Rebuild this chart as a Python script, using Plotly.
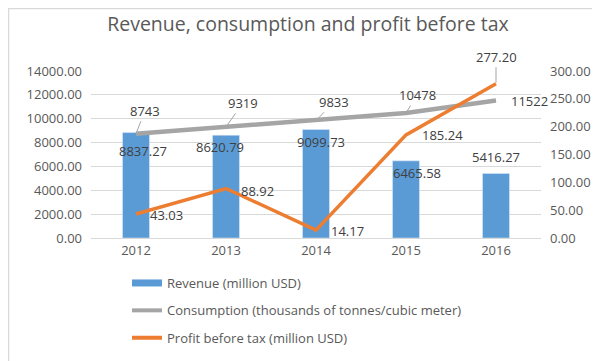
import plotly.graph_objects as go

years = ["2012", "2013", "2014", "2015", "2016"]
revenue = [8837.27, 8620.79, 9099.73, 6465.58, 5416.27]
consumption = [8743, 9319, 9833, 10478, 11522]
profit = [43.03, 88.92, 14.17, 185.24, 277.20]

names = ["Revenue (million USD)",
         "Consumption (thousands of tonnes/cubic meter)",
         "Profit before tax (million USD)"]

BLUE = "#5B9BD5"
GRAY = "#A5A5A5"
ORANGE = "#ED7D31"
TXT = "#404040"
AX = "#595959"
GRID = "#D9D9D9"
FONT = "Open Sans"

PW, PH = 450, 167  # plot area size in px

fig = go.Figure()
fig.add_trace(go.Bar(x=years, y=revenue, marker_color=BLUE, name=names[0],
                     showlegend=False, yaxis="y"))
fig.add_trace(go.Scatter(x=years, y=consumption, mode="lines", name=names[1],
                         line=dict(color=GRAY, width=4.5), yaxis="y", showlegend=False))
fig.add_trace(go.Scatter(x=years, y=profit, mode="lines", name=names[2],
                         line=dict(color=ORANGE, width=3.5), yaxis="y2",
                         showlegend=False))
# legend entries (no visible marks)
for nm, col, w, g in [(names[0], BLUE, 7, "a"), (names[1], GRAY, 4, "b"), (names[2], ORANGE, 4, "c")]:
    fig.add_trace(go.Scatter(x=years[:1], y=[None], mode="lines", name=nm,
                             line=dict(color=col, width=w), legendgroup=g, yaxis="y"))

ann = []
rev_shift = [(7, -18), (-6, -12), (5, -13), (11, -12), (0, 16)]
for i, (v, (dx, dy)) in enumerate(zip(revenue, rev_shift)):
    ann.append(dict(x=i, y=v, xref="x", yref="y", text=f"{v:.2f}", showarrow=False,
                    xshift=dx, yshift=dy, font=dict(size=13, color=TXT, family=FONT)))
cons_off = [(9, -23, True), (17, -24, True), (18, -19, True), (11, -18, True), (33, 0, False)]
for i, (v, (dx, dy, lead)) in enumerate(zip(consumption, cons_off)):
    if lead:
        ann.append(dict(x=i, y=v, xref="x", yref="y", text=f"{v}", showarrow=True,
                        arrowhead=0, arrowwidth=1, arrowcolor=GRAY, ax=dx, ay=dy,
                        standoff=1, font=dict(size=13, color=TXT, family=FONT)))
    else:
        ann.append(dict(x=i, y=v, xref="x", yref="y", text=f"{v}", showarrow=False,
                        xshift=dx, yshift=dy, font=dict(size=13, color=TXT, family=FONT)))
prof_off = [(30, -1, False), (31, -2, False), (31, -1, False), (36, 0, False), (0, -27, True)]
for i, (v, (dx, dy, lead)) in enumerate(zip(profit, prof_off)):
    if lead:
        ann.append(dict(x=i, y=v, xref="x", yref="y2", text=f"{v:.2f}", showarrow=True,
                        arrowhead=0, arrowwidth=1, arrowcolor=GRAY, ax=dx, ay=dy,
                        standoff=1, font=dict(size=13, color=TXT, family=FONT)))
    else:
        ann.append(dict(x=i, y=v, xref="x", yref="y2", text=f"{v:.2f}", showarrow=False,
                        xshift=dx, yshift=dy, font=dict(size=13, color=TXT, family=FONT)))

fig.update_layout(
    width=600, height=361,
    margin=dict(l=83, r=67, t=63, b=131, autoexpand=False),
    paper_bgcolor="white", plot_bgcolor="white",
    font=dict(family=FONT, size=13, color=AX),
    title=dict(text="Revenue, consumption and profit before tax", x=0.5, xanchor="center",
               y=1 - 16 / 361, yanchor="middle", yref="container",
               font=dict(size=19.5, color=AX, family=FONT)),
    bargap=0.7,
    xaxis=dict(type="category", categoryarray=years, categoryorder="array",
               range=[-0.5, len(years) - 0.5], showgrid=False, showline=True,
               linecolor=GRID, ticks="", tickfont=dict(size=13, color=AX)),
    yaxis=dict(range=[0, 14000], dtick=2000, tickformat=".2f", gridcolor=GRID,
               zeroline=False, showline=False, ticklabelstandoff=8,
               tickfont=dict(size=13, color=AX)),
    yaxis2=dict(range=[0, 300], dtick=50, tickformat=".2f", overlaying="y", side="right",
                showgrid=False, zeroline=False, showline=False, ticklabelstandoff=8,
                tickfont=dict(size=13, color=AX)),
    legend=dict(orientation="v", x=(119 - 83) / PW, xanchor="left",
                y=-(260 - 230) / PH, yanchor="top",
                tracegroupgap=7.5, traceorder="grouped", bgcolor="rgba(0,0,0,0)",
                font=dict(size=13, color=AX, family=FONT)),
    annotations=ann,
    shapes=[dict(type="rect", xref="paper", yref="paper",
                 x0=-82.5 / PW, x1=(PW + 66.5) / PW,
                 y0=-130.5 / PH, y1=(PH + 62.5) / PH,
                 line=dict(color=GRID, width=1.5))],
    showlegend=True,
)
fig.write_html("out.html")
